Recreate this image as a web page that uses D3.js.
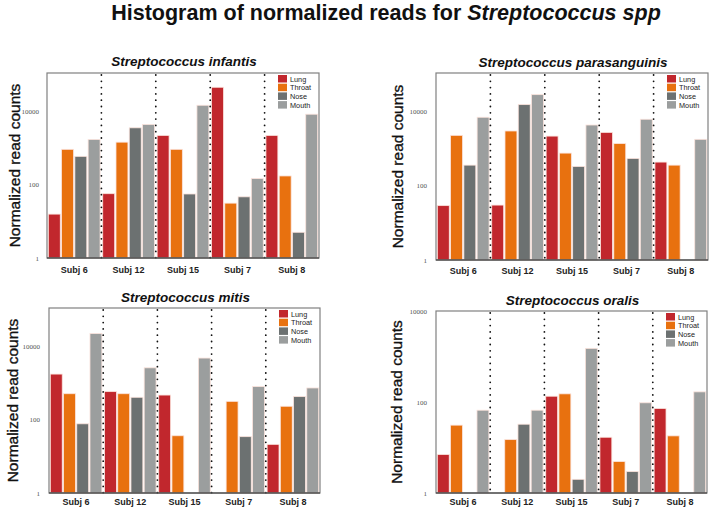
<!DOCTYPE html>
<html><head><meta charset="utf-8">
<script src="https://cdn.jsdelivr.net/npm/d3@7"></script>
<style>
body{margin:0;background:#fff;}
text{font-family:"Liberation Sans",Arial,Helvetica,sans-serif;}
</style></head>
<body><svg id="chart" width="709" height="510"></svg>
<script>
const subjects = ["Subj 6","Subj 12","Subj 15","Subj 7","Subj 8"];
const tissues = ["Lung","Throat","Nose","Mouth"];
const tissueColors = ["#C1272D","#E8710F","#6C7171","#9B9E9E"];
const tickValues = [1,100,10000];

// rows = tissues (Lung, Throat, Nose, Mouth), columns = subjects
const infantisValues = [
  [15.6, 56, 2150, 43800, 2150],
  [900, 1410, 900, 31, 170],
  [580, 3460, 55, 46, 5.0],
  [1670, 4260, 14200, 144, 8100]
];
const parasanguinisValues = [
  [29, 30, 2150, 2700, 430],
  [2250, 2950, 750, 1350, 356],
  [356, 15100, 328, 540, null],
  [6900, 28000, 4270, 6100, 1760]
];
const mitisValues = [
  [1710, 570, 460, null, 21],
  [500, 500, 36, 310, 228],
  [76, 400, null, 34, 417],
  [21600, 2530, 4660, 780, 717]
];
const oralisValues = [
  [7.0, null, 134, 16.8, 72],
  [31, 14.9, 151, 4.9, 18],
  [null, 32.5, 2.0, 2.95, null],
  [66, 66, 1510, 96, 167]
];

const svg = d3.select("#chart");

// main title
const mt = svg.append("text").attr("x", 386).attr("y", 20).attr("text-anchor","middle")
  .style("font-size","21.5px").style("font-weight","bold").attr("fill","#111");
mt.append("tspan").text("Histogram of normalized reads for ");
mt.append("tspan").style("font-style","italic").text("Streptococcus spp");

const panels = [
  {title:"Streptococcus infantis", data:infantisValues, x0:47, x1:319, y0:73, y1:258, top:107000, titleY:66, ylabX:15, labY:274, tickX:39},
  {title:"Streptococcus parasanguinis", data:parasanguinisValues, x0:436, x1:708, y0:73, y1:260, top:107000, titleY:67, ylabX:398, labY:275, tickX:427},
  {title:"Streptococcus mitis", data:mitisValues, x0:49, x1:320, y0:308, y1:493, top:107000, titleY:302, ylabX:13, labY:506, tickX:40},
  {title:"Streptococcus oralis", data:oralisValues, x0:436, x1:707, y0:311, y1:493, top:10000, titleY:305, ylabX:397, labY:506, tickX:427}
];

panels.forEach(p => {
  const g = svg.append("g");
  const x = d3.scaleBand().domain(subjects).range([p.x0, p.x1]).padding(0);
  const xi = d3.scaleBand().domain(tissues).range([0, x.bandwidth()]).paddingInner(0.1).paddingOuter(0.1);
  const y = d3.scaleLog().domain([1, p.top]).range([p.y1, p.y0]);

  // bars
  subjects.forEach((s, si) => {
    tissues.forEach((t, ti) => {
      const v = p.data[ti][si];
      if (v == null) return;
      g.append("rect")
        .attr("x", x(s) + xi(t))
        .attr("y", y(v))
        .attr("width", xi.bandwidth())
        .attr("height", y(1) - y(v))
        .attr("fill", tissueColors[ti])
        .attr("stroke", "#fbe3dc").attr("stroke-width", 0.8);
    });
  });

  // dotted separators
  subjects.slice(1).forEach(s => {
    g.append("line").attr("x1", x(s)).attr("x2", x(s))
      .attr("y1", p.y0 + 2).attr("y2", p.y1)
      .attr("stroke", "#111").attr("stroke-width", 1.8)
      .attr("stroke-linecap","round").attr("stroke-dasharray","0,6.3");
  });

  // frame
  g.append("rect").attr("x", p.x0).attr("y", p.y0).attr("width", p.x1 - p.x0).attr("height", p.y1 - p.y0)
    .attr("fill","none").attr("stroke","#808080").attr("stroke-width",1.2);
  g.append("line").attr("x1", p.x0).attr("x2", p.x1).attr("y1", p.y1).attr("y2", p.y1)
    .attr("stroke","#333").attr("stroke-width",1.2);

  // y ticks (labels only)
  const yAxis = d3.axisLeft(y).tickValues(tickValues).tickFormat(d3.format("d")).tickSize(0).tickPadding(0);
  const ya = g.append("g").attr("transform", `translate(${p.tickX},0)`).call(yAxis);
  ya.select(".domain").remove();
  ya.selectAll("text").style("font-size","7px").attr("fill","#555")
    .style("font-family","'Liberation Serif','DejaVu Serif',serif");

  // x labels
  const xAxis = d3.axisBottom(x).tickSize(0).tickPadding(0);
  const xa = g.append("g").attr("transform", `translate(0,${p.labY - 7})`).call(xAxis);
  xa.select(".domain").remove();
  xa.selectAll("text").style("font-size","9px").style("font-weight","bold").attr("fill","#222").attr("dy","0.71em");

  // panel title
  g.append("text").attr("x", (p.x0 + p.x1)/2 + 1).attr("y", p.titleY).attr("text-anchor","middle")
    .style("font-size","13.5px").style("font-weight","bold").style("font-style","italic").attr("fill","#111")
    .text(p.title);

  // y label
  g.append("text").attr("transform", `translate(${p.ylabX + 5},${(p.y0 + p.y1)/2}) rotate(-90)`)
    .attr("text-anchor","middle").style("font-size","15.5px").attr("fill","#111")
    .attr("stroke","#111").attr("stroke-width",0.35)
    .text("Normalized read counts");

  // legend
  const lx = p.x1 - 41, ly = p.y0 + 2;
  tissues.forEach((t, i) => {
    g.append("rect").attr("x", lx).attr("y", ly + i*8.7).attr("width", 9).attr("height", 7.5).attr("fill", tissueColors[i]);
    g.append("text").attr("x", lx + 12).attr("y", ly + i*8.7 + 6.5).style("font-size","7.3px").attr("fill","#222").text(t);
  });
});
</script></body></html>
